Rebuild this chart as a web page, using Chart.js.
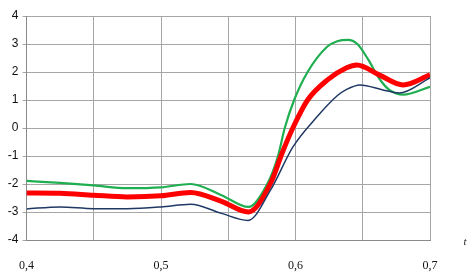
<!DOCTYPE html>
<html><head><meta charset="utf-8">
<script src="https://cdn.jsdelivr.net/npm/chart.js@4/dist/chart.umd.min.js"></script>
<style>html,body{margin:0;padding:0;background:#fff}#w{width:473px;height:278px}</style>
</head><body><div id="w"><canvas id="c"></canvas></div>
<script>
const xTicks = [0.4, 0.5, 0.6, 0.7];
const yTicks = [-4, -3, -2, -1, 0, 1, 2, 3, 4];
const greenT = [0.4, 0.425, 0.45, 0.475, 0.5, 0.522, 0.545, 0.565, 0.579, 0.587, 0.592, 0.599, 0.609, 0.6235, 0.631, 0.639, 0.646, 0.654, 0.6625, 0.67, 0.68, 0.7];
const greenV = [-1.89, -1.96, -2.05, -2.15, -2.12, -2.0, -2.4, -2.82, -2.0, -1.0, 0, 1.0, 2.0, 2.9, 3.1, 3.15, 3.0, 2.45, 1.75, 1.35, 1.19, 1.47];
const redT = [0.4, 0.425, 0.45, 0.475, 0.5, 0.522, 0.545, 0.565, 0.5816, 0.59, 0.598, 0.609, 0.6235, 0.638, 0.6456, 0.6625, 0.68, 0.7];
const redV = [-2.32, -2.33, -2.4, -2.46, -2.42, -2.3, -2.62, -3.0, -1.96, -0.9, 0, 1.0, 1.71, 2.15, 2.25, 1.89, 1.54, 1.9];
const blueT = [0.4, 0.425, 0.45, 0.475, 0.5, 0.522, 0.545, 0.5647, 0.5816, 0.598, 0.616, 0.631, 0.638, 0.648, 0.665, 0.677, 0.7];
const blueV = [-2.89, -2.82, -2.88, -2.88, -2.82, -2.72, -3.05, -3.3, -2.2, -0.68, 0.4, 1.15, 1.38, 1.54, 1.36, 1.25, 1.79];
const axisTitle = 't';

const pts = (t, v) => t.map((x, i) => ({x, y: v[i]}));
const titlePlugin = {
  id: 'axisTitle',
  afterDraw(chart) {
    const {ctx, chartArea} = chart;
    ctx.save();
    ctx.fillStyle = '#222';
    ctx.font = 'italic 11px "Liberation Serif"';
    ctx.textAlign = 'center';
    ctx.textBaseline = 'middle';
    ctx.fillText(axisTitle, chartArea.right + 35, chartArea.bottom + 2);
    ctx.restore();
  }
};
new Chart(document.getElementById('c'), {
  type: 'line',
  data: {
    datasets: [
      {data: pts(blueT, blueV), borderColor: '#1f3864', borderWidth: 1.5, pointRadius: 0, cubicInterpolationMode: 'monotone'},
      {data: pts(redT, redV), borderColor: '#ff0000', borderWidth: 5, pointRadius: 0, cubicInterpolationMode: 'monotone'},
      {data: pts(greenT, greenV), borderColor: '#1fae50', borderWidth: 2.2, pointRadius: 0, cubicInterpolationMode: 'monotone'}
    ]
  },
  options: {
    responsive: true, maintainAspectRatio: false, animation: false,
    layout: {padding: {top: 16, right: 43, left: 0, bottom: 0}},
    plugins: {legend: {display: false}, tooltip: {enabled: false}},
    scales: {
      x: {
        type: 'linear', min: 0.4, max: 0.7,
        afterFit(s) { s.height = 38; },
        border: {color: '#8a8a8a', width: 1},
        grid: {color: '#a6a6a6', lineWidth: 1, drawTicks: false},
        ticks: {
          stepSize: 0.05, padding: 19, color: '#111', maxRotation: 0, autoSkip: false,
          font: {family: '"Liberation Serif"', size: 12},
          callback: (v) => { const r = Math.round(v * 100) / 100; return xTicks.some(t => Math.abs(t - r) < 1e-6) ? r.toFixed(1).replace('.', ',') : ''; }
        }
      },
      y: {
        min: -4, max: 4,
        afterFit(s) { s.width = 26; },
        border: {color: '#8a8a8a', width: 1},
        grid: {color: '#a6a6a6', lineWidth: 1, tickLength: 4},
        ticks: {
          stepSize: 1, padding: 4, color: '#111',
          font: {family: '"Liberation Sans"', size: 12},
          callback: (v) => yTicks.includes(v) ? String(v) : ''
        }
      }
    }
  },
  plugins: [titlePlugin]
});
</script></body></html>
